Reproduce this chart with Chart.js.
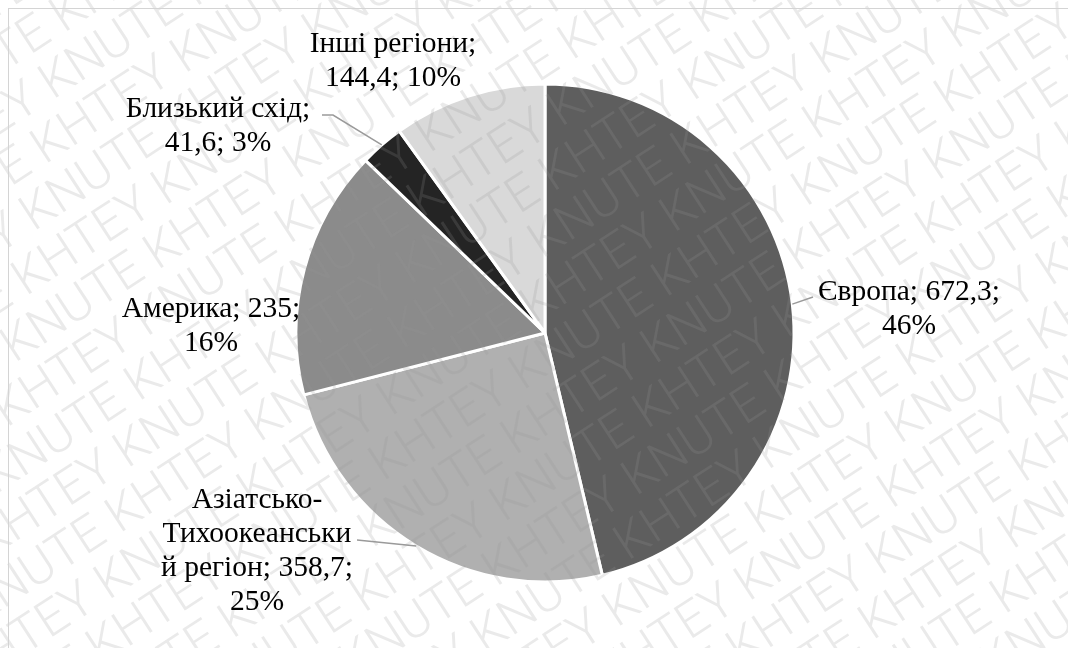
<!DOCTYPE html>
<html lang="uk">
<head>
<meta charset="utf-8">
<title>Регіони</title>
<script src="https://cdn.jsdelivr.net/npm/chart.js@4.4.1/dist/chart.umd.min.js"></script>
<style>
  html, body { margin: 0; padding: 0; background: #fff; overflow: hidden; }
  #pie { display: block; }
</style>
</head>
<body>
<canvas id="pie" width="1068" height="648"></canvas>
<script>
// values
const categories = ["Європа", "Азіатсько-Тихоокеанський регіон", "Америка", "Близький схід", "Інші регіони"];
const values = [672.3, 358.7, 235, 41.6, 144.4];
const sliceColors = ["#5e5e5e", "#b0b0b0", "#8b8b8b", "#242424", "#d9d9d9"];

// label placement: [centre x, baseline of first line], leader start (null = no leader)
const labelPos = [[909, 300], [257, 508], [211, 317], [218, 117], [393, 52]];
const leaderFrom = [[[813, 297]], [[357, 540]], null, [[322, 115], [333, 115]], null];

const total = values.reduce((a, b) => a + b, 0);
const fmt = (v) => String(v).replace(".", ",");

function wrapText(ctx, text, maxW) {
  // split on spaces and after hyphens, keeping separators
  const tokens = [];
  text.split(" ").forEach((w, i) => {
    const parts = w.split(/(?<=-)/);
    parts.forEach((p, j) => tokens.push({ t: p, sep: (j === 0 && i > 0) ? " " : "" }));
  });
  const lines = [];
  let line = "";
  tokens.forEach((tk) => {
    const trial = line ? line + tk.sep + tk.t : tk.t;
    if (ctx.measureText(trial).width <= maxW) { line = trial; return; }
    if (line) lines.push(line);
    let rest = tk.t;
    while (ctx.measureText(rest).width > maxW) {
      let n = rest.length;
      while (n > 1 && ctx.measureText(rest.slice(0, n)).width > maxW) n--;
      lines.push(rest.slice(0, n));
      rest = rest.slice(n);
    }
    line = rest;
  });
  if (line) lines.push(line);
  return lines;
}

const decorPlugin = {
  id: "decor",
  afterDatasetsDraw(chart) {
    // KNUTE watermark over the whole picture
    const ctx = chart.ctx;
    ctx.save();
    ctx.fillStyle = "rgba(150,150,150,0.2)";
    ctx.font = "300 50px Roboto, 'Liberation Sans', sans-serif";
    ctx.textBaseline = "alphabetic";
    ctx.translate(chart.width / 2, chart.height / 2);
    ctx.rotate(-33 * Math.PI / 180);
    const unit = "KHTEY KNUTE ";
    const uw = ctx.measureText(unit).width;
    let row = "";
    for (let k = 0; k < 8; k++) row += unit;
    for (let r = -12; r <= 12; r++) {
      const off = ((r * 0.37) % 1 + 1) % 1 * uw;
      ctx.fillText(row, -uw * 4 + off, r * 50);
    }
    ctx.restore();
  },
  afterDraw(chart) {
    const ctx = chart.ctx;
    const arcs = chart.getDatasetMeta(0).data;

    // frame
    ctx.save();
    ctx.strokeStyle = "#d4d4d4";
    ctx.lineWidth = 1;
    ctx.strokeRect(8.5, 8.5, 1200, 800);

    // leader lines to the middle of each slice's outer edge
    ctx.strokeStyle = "#9a9a9a";
    ctx.lineWidth = 1.5;
    arcs.forEach((arc, i) => {
      if (!leaderFrom[i]) return;
      const p = arc.getProps(["x", "y", "startAngle", "endAngle", "outerRadius"], true);
      const mid = (p.startAngle + p.endAngle) / 2;
      ctx.beginPath();
      leaderFrom[i].forEach((pt, j) => (j ? ctx.lineTo(pt[0], pt[1]) : ctx.moveTo(pt[0], pt[1])));
      ctx.lineTo(p.x + Math.cos(mid) * p.outerRadius, p.y + Math.sin(mid) * p.outerRadius);
      ctx.stroke();
    });

    // data labels: "name; value; percent"
    ctx.fillStyle = "#000";
    ctx.font = "29.5px 'Liberation Serif', 'Times New Roman', serif";
    ctx.textAlign = "center";
    ctx.textBaseline = "alphabetic";
    categories.forEach((c, i) => {
      const pct = Math.round(values[i] / total * 100);
      const lines = wrapText(ctx, `${c}; ${fmt(values[i])}; ${pct}%`, 196);
      lines.forEach((ln, j) => ctx.fillText(ln, labelPos[i][0], labelPos[i][1] + j * 34));
    });
    ctx.restore();
  }
};

new Chart(document.getElementById("pie"), {
  type: "pie",
  data: {
    labels: categories,
    datasets: [{
      data: values,
      backgroundColor: sliceColors,
      borderColor: "#ffffff",
      borderWidth: 3
    }]
  },
  options: {
    responsive: false,
    animation: false,
    radius: 249,
    layout: { padding: { left: 22, top: 84, right: 0, bottom: 66 } },
    plugins: { legend: { display: false }, tooltip: { enabled: false } }
  },
  plugins: [decorPlugin]
});
</script>
</body>
</html>
